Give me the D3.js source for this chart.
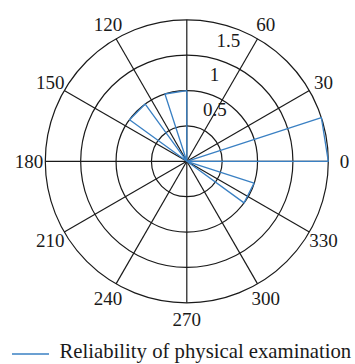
<!DOCTYPE html>
<html><head><meta charset="utf-8">
<script src="https://cdn.jsdelivr.net/npm/d3@7"></script>
<style>html,body{margin:0;padding:0;background:#fff;}svg{display:block;}</style>
</head><body>
<svg id="chart" width="355" height="364"></svg>
<script>
// Rose histogram: 20 bins of 18 degrees, counts per bin
const binWidthDeg = 18;
const binCounts = [2,0,0,0,0,1,0,1,0,0,0,0,0,0,0,0,0,0,1,0];
const ringValues = [0.5, 1, 1.5];
const ringLabels = ["0.5", "1", "1.5"];
const rMax = 2;
const spokeAngles = [0,30,60,90,120,150,180,210,240,270,300,330];
const spokeLabels = ["0","30","60","","120","150","180","210","240","270","300","330"];
const seriesName = "Reliability of physical examination";

const svg = d3.select("#chart");
const cx = 186.8, cy = 161.3, R = 141.5;
const font = "'Liberation Serif', 'DejaVu Serif', serif";
const r = d3.scaleLinear().domain([0, rMax]).range([0, R]);
const ang = d3.scaleLinear().domain([0, 360]).range([0, 2*Math.PI]);
const pt = (deg, v) => [cx + r(v)*Math.cos(ang(deg)), cy - r(v)*Math.sin(ang(deg))];

const g = svg.append("g");
// rings
g.selectAll("circle.ring").data(ringValues.concat([rMax])).join("circle")
  .attr("cx", cx).attr("cy", cy).attr("r", d => r(d))
  .attr("fill", "none").attr("stroke", "#1a1a1a").attr("stroke-width", 1.2);
// spokes
g.selectAll("line.spoke").data(spokeAngles).join("line")
  .attr("x1", cx).attr("y1", cy)
  .attr("x2", d => pt(d, rMax)[0]).attr("y2", d => pt(d, rMax)[1])
  .attr("stroke", "#1a1a1a").attr("stroke-width", 1.2);
// angle labels
g.selectAll("text.ang").data(spokeAngles).join("text")
  .attr("x", d => pt(d, rMax*1.115)[0])
  .attr("y", d => pt(d, rMax*1.115)[1])
  .attr("text-anchor", "middle").attr("dy", "0.35em")
  .attr("font-family", font).attr("font-size", 19).attr("fill", "#1a1a1a")
  .text((d,i) => spokeLabels[i]);
// ring labels
const la = 79;
g.selectAll("text.rl").data(ringValues).join("text")
  .attr("x", d => cx + 9.5 + r(d)*Math.cos(ang(la)))
  .attr("y", d => cy - 10.5 - r(d)*Math.sin(ang(la)))
  .attr("text-anchor", "start")
  .attr("font-family", font).attr("font-size", 19).attr("fill", "#1a1a1a")
  .text((d,i) => ringLabels[i]);

// rose wedges
const line = d3.line();
const pts = [];
binCounts.forEach((c, i) => {
  const a0 = i*binWidthDeg, a1 = (i+1)*binWidthDeg;
  pts.push([cx, cy], pt(a0, c), pt(a1, c), [cx, cy]);
});
g.append("path").attr("d", line(pts))
  .attr("fill", "none").attr("stroke", "#3a80c3").attr("stroke-width", 1.3)
  .attr("stroke-linejoin", "round");

// legend
const lg = svg.append("g");
lg.append("line").attr("x1", 12).attr("x2", 49).attr("y1", 354).attr("y2", 354)
  .attr("stroke", "#3a80c3").attr("stroke-width", 1.3);
const lt = lg.append("text").attr("x", 59.5).attr("y", 357.5)
  .attr("font-family", font).attr("font-size", 19).attr("fill", "#1a1a1a")
  .text(seriesName);
const w = lt.node().getComputedTextLength();
lt.attr("font-size", 19 * 292 / w);
</script>
</body></html>
